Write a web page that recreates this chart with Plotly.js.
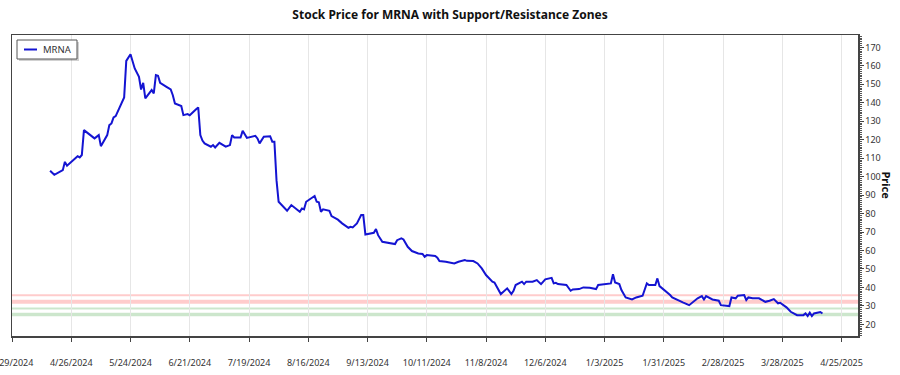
<!DOCTYPE html>
<html>
<head>
<meta charset="utf-8">
<script src="https://cdn.plot.ly/plotly-3.0.1.min.js"></script>
<style>html,body{margin:0;padding:0;background:#fff;}#chart{width:900px;height:375px;}</style>
</head>
<body>
<div id="chart"></div>
<script>
const ticker = "MRNA";
const dates = [
"2024-04-16","2024-04-18","2024-04-22","2024-04-23","2024-04-24","2024-04-26","2024-04-29","2024-04-30","2024-05-01","2024-05-02",
"2024-05-07","2024-05-09","2024-05-10","2024-05-13","2024-05-14","2024-05-15","2024-05-16","2024-05-17","2024-05-21","2024-05-22",
"2024-05-24","2024-05-26","2024-05-28","2024-05-29","2024-05-30","2024-05-31","2024-06-03","2024-06-04","2024-06-05","2024-06-06",
"2024-06-07","2024-06-10","2024-06-12","2024-06-13","2024-06-14","2024-06-17","2024-06-18","2024-06-20","2024-06-21","2024-06-24",
"2024-06-25","2024-06-26","2024-06-27","2024-06-28","2024-07-01","2024-07-02","2024-07-03","2024-07-05","2024-07-08","2024-07-10",
"2024-07-11","2024-07-12","2024-07-15","2024-07-16","2024-07-18","2024-07-22","2024-07-23","2024-07-24","2024-07-26","2024-07-29",
"2024-07-30","2024-07-31","2024-08-01","2024-08-02","2024-08-06","2024-08-08","2024-08-12","2024-08-13","2024-08-14","2024-08-15",
"2024-08-19","2024-08-20","2024-08-21","2024-08-22","2024-08-23","2024-08-26","2024-08-27","2024-08-30","2024-09-01","2024-09-04",
"2024-09-05","2024-09-06","2024-09-08","2024-09-10","2024-09-11","2024-09-12","2024-09-15","2024-09-16","2024-09-17","2024-09-18",
"2024-09-20","2024-09-24","2024-09-26","2024-09-27","2024-09-29","2024-09-30","2024-10-02","2024-10-04","2024-10-07","2024-10-09",
"2024-10-10","2024-10-11","2024-10-15","2024-10-16","2024-10-17","2024-10-20","2024-10-23","2024-10-24","2024-10-26","2024-10-29",
"2024-10-30","2024-11-02","2024-11-04","2024-11-06","2024-11-08","2024-11-11","2024-11-12","2024-11-15","2024-11-18","2024-11-20",
"2024-11-21","2024-11-22","2024-11-25","2024-11-26","2024-11-27","2024-11-30","2024-12-02","2024-12-04","2024-12-06","2024-12-09",
"2024-12-10","2024-12-11","2024-12-12","2024-12-16","2024-12-18","2024-12-19","2024-12-22","2024-12-24","2024-12-27","2024-12-30",
"2024-12-31","2025-01-05","2025-01-06","2025-01-07","2025-01-08","2025-01-10","2025-01-11","2025-01-13","2025-01-16","2025-01-18",
"2025-01-21","2025-01-23","2025-01-24","2025-01-27","2025-01-28","2025-01-29","2025-01-31","2025-02-03","2025-02-04","2025-02-07",
"2025-02-09","2025-02-12","2025-02-14","2025-02-16","2025-02-18","2025-02-19","2025-02-20","2025-02-23","2025-02-26","2025-02-27",
"2025-03-03","2025-03-04","2025-03-06","2025-03-07","2025-03-10","2025-03-11","2025-03-12","2025-03-14","2025-03-17","2025-03-20",
"2025-03-22","2025-03-24","2025-03-26","2025-03-27","2025-03-30","2025-04-01","2025-04-04","2025-04-07","2025-04-08","2025-04-09",
"2025-04-10","2025-04-11","2025-04-12","2025-04-15","2025-04-16"
];
const prices = [
103.2,101.0,103.5,108.0,105.9,108.0,111.1,110.4,111.7,125.2,
120.7,122.5,116.5,122.5,127.9,128.8,132.1,132.8,142.9,162.7,
166.3,158.6,154.1,147.2,150.8,142.4,146.9,145.1,155.0,154.6,
150.8,148.6,147.2,144.1,139.6,138.2,133.3,133.9,133.2,136.5,
137.5,122.5,119.5,118.0,116.2,117.1,115.8,118.3,116.2,117.1,
122.5,121.2,121.2,124.8,121.0,122.1,120.7,118.0,121.6,121.9,
118.9,118.9,98.1,86.4,81.5,84.6,81.0,82.8,82.3,86.4,
89.5,86.4,86.1,81.0,82.3,81.5,78.6,76.7,74.7,72.3,
72.8,72.5,74.7,79.2,79.2,68.7,69.3,69.6,71.6,68.3,
64.7,63.9,63.5,65.6,66.6,66.0,62.0,59.7,58.4,58.1,
56.6,57.5,57.0,56.1,54.3,53.9,53.0,53.0,53.9,54.8,
54.4,54.3,53.0,50.3,46.7,43.1,42.7,36.4,39.5,36.4,
38.2,41.3,43.1,41.8,43.1,43.1,44.0,41.8,44.4,45.2,
42.2,42.5,41.8,41.3,38.2,38.9,39.1,40.0,39.8,39.1,
41.3,42.2,42.2,47.1,42.7,41.8,38.6,34.6,33.5,34.6,
35.5,42.2,41.3,41.3,44.9,40.7,38.9,35.9,34.6,32.8,
31.9,30.4,32.2,34.1,35.3,33.5,35.3,33.5,32.8,30.4,
29.9,34.6,34.1,35.5,35.9,33.2,34.6,34.2,34.1,32.2,
32.8,33.7,31.4,31.7,29.2,26.8,25.0,25.0,25.9,24.5,
26.3,24.5,25.9,26.7,25.9
];
const resistanceLevels = [35.7, 32.3];
const resistanceWidths = [2, 4];
const supportLevels = [28.6, 25.4];
const supportWidths = [2, 3.5];
const yTickValues = [20,30,40,50,60,70,80,90,100,110,120,130,140,150,160,170];
const xRange = ["2024-03-29", "2025-05-02 19:00"];
const yRange = [13.7, 176.7];

const W = 900, H = 375, M = {l:12, r:42, t:35, b:39};
const pw = W - M.l - M.r, ph = H - M.t - M.b;
const px = x => (x - M.l) / pw;          // pixel -> paper x
const py = y => (H - M.b - y) / ph;      // pixel -> paper y

const shapes = [];
resistanceLevels.forEach((lv, i) => shapes.push({type:"line", xref:"paper", x0:0, x1:1, yref:"y", y0:lv, y1:lv,
  line:{color:"rgba(255,0,0,0.2)", width:resistanceWidths[i]}, layer:"below"}));
supportLevels.forEach((lv, i) => shapes.push({type:"line", xref:"paper", x0:0, x1:1, yref:"y", y0:lv, y1:lv,
  line:{color:"rgba(0,128,0,0.2)", width:supportWidths[i]}, layer:"below"}));

// legend box (drawn by hand to match the compact boxed legend with drop shadow)
const lineColor = "#1414d2";
shapes.push({type:"rect", xref:"paper", yref:"paper", x0:px(19), x1:px(79), y0:py(61), y1:py(42),
  fillcolor:"rgba(0,0,0,0.18)", line:{width:0}, layer:"above"});
shapes.push({type:"rect", xref:"paper", yref:"paper", x0:px(17), x1:px(77), y0:py(59), y1:py(40),
  fillcolor:"#fff", line:{color:"#555", width:1}, layer:"above"});
shapes.push({type:"line", xref:"paper", yref:"paper", x0:px(24), x1:px(37), y0:py(49.5), y1:py(49.5),
  line:{color:lineColor, width:2}, layer:"above"});

const font = "'Noto Sans', 'Open Sans', sans-serif";
const trace = {x: dates, y: prices, type:"scatter", mode:"lines", name: ticker,
  line:{color:lineColor, width:2}};

const layout = {
  width:W, height:H,
  margin:M,
  paper_bgcolor:"#fff", plot_bgcolor:"#fff",
  font:{family:font, size:9, color:"#333"},
  title:{text:"<b>Stock Price for " + ticker + " with Support/Resistance Zones</b>", x:0.5, xref:"container", y:0.96, yref:"container", yanchor:"middle",
    font:{family:font, size:12, color:"#111"}},
  showlegend:false,
  xaxis:{type:"date", range:xRange, tick0:"2024-03-29", dtick:28*86400000, tickformat:"%-m/%-d/%Y",
    showgrid:true, gridcolor:"#e6e6e6", gridwidth:1, showline:true, linecolor:"#444", linewidth:1.5, mirror:true,
    ticks:"outside", ticklen:4, tickcolor:"#444", ticklabelstandoff:14, ticklabeloverflow:"allow", zeroline:false,
    tickfont:{family:font, size:9, color:"#333"}},
  yaxis:{side:"right", range:yRange, tickvals:yTickValues, showgrid:false, zeroline:false,
    showline:true, linecolor:"#444", linewidth:1.5, mirror:true, ticks:"outside", ticklen:4, tickcolor:"#444",
    minor:{dtick:1, ticks:"outside", ticklen:2, tickcolor:"#555", showgrid:false},
    tickfont:{family:font, size:9, color:"#333"}},
  shapes: shapes,
  annotations:[
    {text:"<b>Price</b>", xref:"paper", yref:"paper", x:1, xshift:28, y:0.5, textangle:90, showarrow:false,
      font:{family:font, size:11, color:"#111"}, xanchor:"center", yanchor:"middle"},
    {text:ticker, xref:"paper", yref:"paper", x:px(41), y:py(49.5), showarrow:false, xanchor:"left", yanchor:"middle",
      font:{family:font, size:9.5, color:"#333"}}
  ]
};
Plotly.newPlot("chart", [trace], layout, {displayModeBar:false, staticPlot:true});
</script>
</body>
</html>
